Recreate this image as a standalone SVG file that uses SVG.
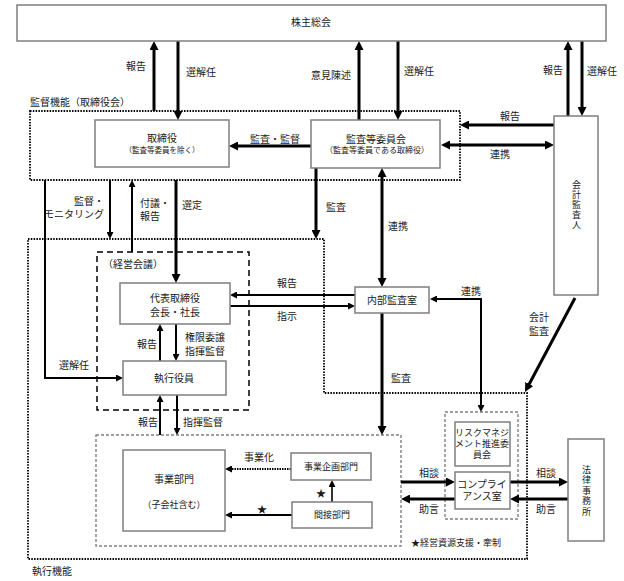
<svg xmlns="http://www.w3.org/2000/svg" width="624" height="581" viewBox="0 0 624 581">
<style>
text{font-family:"Liberation Sans","Noto Sans CJK JP","Noto Sans CJK SC",sans-serif;font-size:10px;fill:#1a1a1a}
.m{text-anchor:middle}
.e{text-anchor:end}
.s{font-size:7.5px}
.s8{font-size:8px}
.s9{font-size:9px}
.v{writing-mode:vertical-rl;text-orientation:upright;font-size:9px}
.box{fill:#fff;stroke:#7f7f7f;stroke-width:1.5}
.dot{fill:none;stroke:#000;stroke-width:1.8;stroke-dasharray:1.5 1.3}
.dash{fill:none;stroke:#000;stroke-width:1.5;stroke-dasharray:6 4}
.gdash{fill:none;stroke:#808080;stroke-width:1.4;stroke-dasharray:3 2}
.t{fill:none;stroke:#000;stroke-width:3;marker-end:url(#ah)}
.t2{fill:none;stroke:#000;stroke-width:3;marker-end:url(#ah);marker-start:url(#ah)}
.n{fill:none;stroke:#000;stroke-width:2;marker-end:url(#as)}
.n2{fill:none;stroke:#000;stroke-width:2;marker-end:url(#as);marker-start:url(#as)}
</style>
<defs>
<marker id="ah" viewBox="0 0 10 10" refX="5" refY="5" markerWidth="9" markerHeight="9" markerUnits="userSpaceOnUse" orient="auto-start-reverse"><path d="M0,0 L10,5 L0,10 z" fill="#000"/></marker>
<marker id="as" viewBox="0 0 10 10" refX="5" refY="5" markerWidth="7" markerHeight="7" markerUnits="userSpaceOnUse" orient="auto-start-reverse"><path d="M0,0 L10,5 L0,10 z" fill="#000"/></marker>
</defs>
<rect width="624" height="581" fill="#fff"/>

<g id="frames">
<rect class="dot" x="30" y="111" width="430" height="69"/>
<path class="dot" d="M28,239 H324 V393 H527 V559 H28 Z"/>
<rect class="dash" x="97" y="252" width="152" height="158"/>
<rect class="gdash" x="96" y="435" width="305" height="111"/>
<rect class="gdash" x="445" y="412" width="73" height="107"/>
<text x="30" y="106">監督機能（取締役会）</text>
<text x="32" y="575">執行機能</text>
<text x="103" y="268">（経営会議）</text>
<text class="s9" x="411" y="546">★経営資源支援・牽制</text>
</g>

<g id="connectors">
<path class="t" d="M154,111 V45.5"/>
<path class="t" d="M178,41 V115.5"/>
<path class="t" d="M359,120 V45.5"/>
<path class="t" d="M398,41 V115.5"/>
<path class="t" d="M568,116 V45.5"/>
<path class="t" d="M582,41 V111.5"/>
<path class="t" d="M311,146 H233.5"/>
<path class="t" d="M554,125 H464.5"/>
<path class="t2" d="M445.5,145 H549.5"/>
<path class="t" d="M176,180 V278.5"/>
<path class="t" d="M316,168 V234.5"/>
<path class="t2" d="M382,172.5 V282.5"/>
<path class="t" d="M575,298 L527.1,388"/>
<path class="t" d="M382,313 V430.5"/>
<path class="t" d="M401,482 H450.5"/>
<path class="t" d="M455,499 H405.5"/>
<path class="t" d="M510,482 H563.5"/>
<path class="t" d="M568,499 H514.5"/>
<path class="n" d="M110,180 V235.5"/>
<path class="n" d="M132,252 V183.5"/>
<path class="n" d="M45,180 V378 H119.5"/>
<path class="n" d="M355,295 H233.5"/>
<path class="n" d="M230,306 H351.5"/>
<path class="n2" d="M433.5,299 H481 V408.5"/>
<path class="n" d="M160,361 V327.5"/>
<path class="n" d="M176,324 V357.5"/>
<path class="n" d="M160,435 V398.5"/>
<path class="n" d="M177,395 V431.5"/>
<path fill="none" stroke="#000" stroke-width="2" stroke-dasharray="1.5 1" marker-end="url(#as)" d="M291,469 H228.5"/>
<path class="n" d="M292,515 H228.5"/>
<path fill="none" stroke="#000" stroke-width="1.6" marker-end="url(#as)" d="M332,502 V483.5"/>
<text class="m" x="136" y="70">報告</text>
<text class="m" x="201" y="76">選解任</text>
<text class="m" x="331" y="79">意見陳述</text>
<text class="m" x="419" y="75">選解任</text>
<text class="m" x="553" y="74">報告</text>
<text class="m" x="602" y="75">選解任</text>
<text class="m" x="275" y="143">監査・監督</text>
<text class="m" x="510" y="120">報告</text>
<text class="m" x="500" y="158">連携</text>
<text class="e" x="104" y="205">監督・</text>
<text class="e" x="104" y="218">モニタリング</text>
<text x="140" y="207">付議・</text>
<text x="140" y="220">報告</text>
<text x="182" y="209">選定</text>
<text x="326" y="211">監査</text>
<text x="388" y="230">連携</text>
<text class="m" x="287" y="287">報告</text>
<text class="m" x="287" y="320">指示</text>
<text class="m" x="471" y="295">連携</text>
<text class="m" x="539" y="321">会計</text>
<text class="m" x="539" y="335">監査</text>
<text class="m" x="401" y="382">監査</text>
<text class="m" x="74" y="369">選解任</text>
<text class="m" x="147" y="348">報告</text>
<text x="185" y="341">権限委譲</text>
<text x="185" y="355">指揮監督</text>
<text class="m" x="148" y="426">報告</text>
<text x="183" y="426">指揮監督</text>
<text class="m" x="259" y="461">事業化</text>
<text class="m" x="321" y="497">★</text>
<text class="m" x="262" y="513">★</text>
<text class="m" x="429" y="477">相談</text>
<text class="m" x="429" y="513">助言</text>
<text class="m" x="546" y="477">相談</text>
<text class="m" x="546" y="513">助言</text>
</g>

<g id="n-shareholders">
<rect class="box" x="17" y="5" width="589" height="36"/>
<text class="m" x="311" y="26">株主総会</text>
</g>
<g id="n-directors">
<rect class="box" x="95" y="120" width="134" height="47"/>
<text class="m" x="162" y="142">取締役</text>
<text class="m s" x="162" y="153">（監査等委員を除く）</text>
</g>
<g id="n-auditcommittee">
<rect class="box" x="311" y="120" width="129" height="48"/>
<text class="m" x="376" y="143">監査等委員会</text>
<text class="m s8" x="377" y="153">（監査等委員である取締役）</text>
</g>
<g id="n-accountingauditor">
<rect class="box" x="554" y="116" width="44" height="179"/>
<text class="v" x="576" y="180" letter-spacing="1">会計監査人</text>
</g>
<g id="n-representative">
<rect class="box" x="120" y="283" width="110" height="41"/>
<text class="m" x="175" y="302">代表取締役</text>
<text class="m" x="175" y="316">会長・社長</text>
</g>
<g id="n-internalaudit">
<rect class="box" x="355" y="287" width="74" height="26"/>
<text class="m" x="392" y="304">内部監査室</text>
</g>
<g id="n-officers">
<rect class="box" x="123" y="361" width="103" height="34"/>
<text class="m" x="174" y="382">執行役員</text>
</g>
<g id="n-business">
<rect class="box" x="123" y="450" width="102" height="81"/>
<text class="m" x="174" y="483">事業部門</text>
<text class="m s9" x="174" y="508">（子会社含む）</text>
</g>
<g id="n-planning">
<rect class="box" x="291" y="453" width="80" height="27"/>
<text class="m s9" x="331" y="470">事業企画部門</text>
</g>
<g id="n-indirect">
<rect class="box" x="292" y="502" width="80" height="26"/>
<text class="m s9" x="332" y="518">間接部門</text>
</g>
<g id="n-risk">
<rect class="box" x="455" y="422" width="55" height="44"/>
<text class="m s9" x="482" y="436">リスクマネジ</text>
<text class="m s9" x="482" y="447">メント推進委</text>
<text class="m s9" x="482" y="458">員会</text>
</g>
<g id="n-compliance">
<rect class="box" x="455" y="472" width="55" height="37"/>
<text class="m" x="482" y="488">コンプライ</text>
<text class="m" x="482" y="500">アンス室</text>
</g>
<g id="n-law">
<rect class="box" x="568" y="439" width="36" height="102"/>
<text class="v" x="586" y="465" letter-spacing="1.5">法律事務所</text>
</g>
</svg>
